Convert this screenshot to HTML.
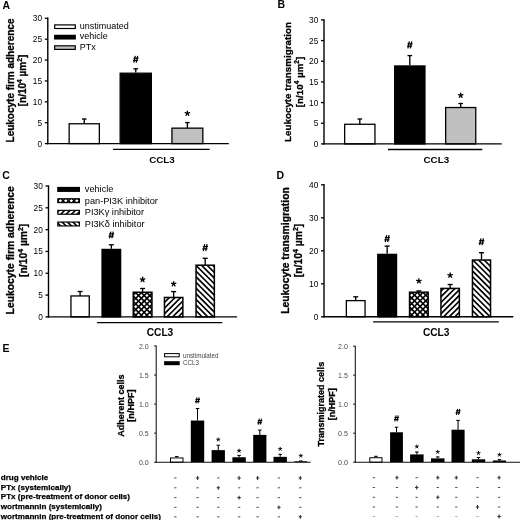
<!DOCTYPE html>
<html><head><meta charset="utf-8"><title>Figure</title>
<style>html,body{margin:0;padding:0;background:#fff;}svg{display:block;font-family:"Liberation Sans",sans-serif;}</style>
</head><body>
<svg width="520" height="520" viewBox="0 0 520 520">
<defs>
<filter id="soft" x="0" y="0" width="520" height="520" filterUnits="userSpaceOnUse"><feGaussianBlur stdDeviation="0.35"/></filter>
</defs>
<g filter="url(#soft)">
<rect width="520" height="520" fill="#fff"/>
<text x="2.40" y="8.70" font-size="10.5" font-weight="bold" text-anchor="start" fill="#000" >A</text>
<text transform="translate(13.80,80.50) rotate(-90)" font-size="10.0" font-weight="bold" text-anchor="middle" fill="#000" stroke="#000" stroke-width="0.3">Leukocyte firm adherence</text>
<text transform="translate(26.20,80.50) rotate(-90)" font-size="10.0" font-weight="bold" text-anchor="middle" fill="#000" stroke="#000" stroke-width="0.3">[n/10<tspan dy="-4.00" font-size="6.60">4</tspan><tspan dy="4.00"> µm</tspan><tspan dy="-4.00" font-size="6.60">2</tspan><tspan dy="4.00">]</tspan></text>
<rect x="69.15" y="123.76" width="30.20" height="19.84" fill="#fff" stroke="#000" stroke-width="1.3"/>
<line x1="84.25" y1="123.76" x2="84.25" y2="119.00" stroke="#000" stroke-width="1.35" />
<line x1="81.95" y1="119.00" x2="86.55" y2="119.00" stroke="#000" stroke-width="1.35" />
<rect x="120.15" y="73.20" width="31.20" height="70.40" fill="#000" stroke="#000" stroke-width="1.3"/>
<line x1="135.75" y1="72.60" x2="135.75" y2="68.80" stroke="#000" stroke-width="1.35" />
<line x1="133.45" y1="68.80" x2="138.05" y2="68.80" stroke="#000" stroke-width="1.35" />
<line x1="133.85" y1="62.60" x2="135.25" y2="55.80" stroke="#000" stroke-width="1.25" />
<line x1="136.25" y1="62.60" x2="137.65" y2="55.80" stroke="#000" stroke-width="1.25" />
<line x1="133.45" y1="58.15" x2="138.55" y2="58.15" stroke="#000" stroke-width="1.1875" />
<line x1="132.95" y1="60.45" x2="138.05" y2="60.45" stroke="#000" stroke-width="1.1875" />
<rect x="171.95" y="128.15" width="30.90" height="15.45" fill="#c0c0c0" stroke="#000" stroke-width="1.3"/>
<line x1="187.40" y1="128.15" x2="187.40" y2="122.60" stroke="#000" stroke-width="1.35" />
<line x1="185.10" y1="122.60" x2="189.70" y2="122.60" stroke="#000" stroke-width="1.35" />
<line x1="187.40" y1="113.40" x2="187.40" y2="111.05" stroke="#000" stroke-width="1.3" stroke-linecap="round"/>
<line x1="187.40" y1="113.40" x2="189.63" y2="112.67" stroke="#000" stroke-width="1.3" stroke-linecap="round"/>
<line x1="187.40" y1="113.40" x2="188.78" y2="115.30" stroke="#000" stroke-width="1.3" stroke-linecap="round"/>
<line x1="187.40" y1="113.40" x2="186.02" y2="115.30" stroke="#000" stroke-width="1.3" stroke-linecap="round"/>
<line x1="187.40" y1="113.40" x2="185.17" y2="112.67" stroke="#000" stroke-width="1.3" stroke-linecap="round"/>
<line x1="47.80" y1="17.60" x2="47.80" y2="144.30" stroke="#000" stroke-width="1.4" />
<line x1="47.10" y1="143.60" x2="228.80" y2="143.60" stroke="#000" stroke-width="1.4" />
<line x1="44.80" y1="143.60" x2="47.80" y2="143.60" stroke="#000" stroke-width="1.3" />
<text x="42.10" y="146.55" font-size="8.3" font-weight="normal" text-anchor="end" fill="#000" >0</text>
<line x1="44.80" y1="122.72" x2="47.80" y2="122.72" stroke="#000" stroke-width="1.3" />
<text x="42.10" y="125.67" font-size="8.3" font-weight="normal" text-anchor="end" fill="#000" >5</text>
<line x1="44.80" y1="101.83" x2="47.80" y2="101.83" stroke="#000" stroke-width="1.3" />
<text x="42.10" y="104.78" font-size="8.3" font-weight="normal" text-anchor="end" fill="#000" >10</text>
<line x1="44.80" y1="80.95" x2="47.80" y2="80.95" stroke="#000" stroke-width="1.3" />
<text x="42.10" y="83.90" font-size="8.3" font-weight="normal" text-anchor="end" fill="#000" >15</text>
<line x1="44.80" y1="60.07" x2="47.80" y2="60.07" stroke="#000" stroke-width="1.3" />
<text x="42.10" y="63.02" font-size="8.3" font-weight="normal" text-anchor="end" fill="#000" >20</text>
<line x1="44.80" y1="39.18" x2="47.80" y2="39.18" stroke="#000" stroke-width="1.3" />
<text x="42.10" y="42.13" font-size="8.3" font-weight="normal" text-anchor="end" fill="#000" >25</text>
<line x1="44.80" y1="18.30" x2="47.80" y2="18.30" stroke="#000" stroke-width="1.3" />
<text x="42.10" y="21.25" font-size="8.3" font-weight="normal" text-anchor="end" fill="#000" >30</text>
<line x1="113.00" y1="149.40" x2="209.70" y2="149.40" stroke="#000" stroke-width="1.4" />
<text x="162.00" y="163.00" font-size="9.8" font-weight="bold" text-anchor="middle" fill="#000" >CCL3</text>
<rect x="54.70" y="24.90" width="20.60" height="3.60" fill="#fff" stroke="#000" stroke-width="1.2"/>
<text x="79.80" y="29.00" font-size="9" font-weight="normal" text-anchor="start" fill="#000" >unstimuated</text>
<rect x="54.70" y="35.35" width="20.60" height="3.60" fill="#000" stroke="#000" stroke-width="1.2"/>
<text x="79.80" y="39.45" font-size="9" font-weight="normal" text-anchor="start" fill="#000" >vehicle</text>
<rect x="54.70" y="45.80" width="20.60" height="3.60" fill="#c0c0c0" stroke="#000" stroke-width="1.2"/>
<text x="79.80" y="49.90" font-size="9" font-weight="normal" text-anchor="start" fill="#000" >PTx</text>
<text x="277.40" y="8.20" font-size="10.5" font-weight="bold" text-anchor="start" fill="#000" >B</text>
<text transform="translate(291.20,82.00) rotate(-90)" font-size="9.8" font-weight="bold" text-anchor="middle" fill="#000" stroke="#000" stroke-width="0.3">Leukocyte transmigration</text>
<text transform="translate(303.20,82.00) rotate(-90)" font-size="9.8" font-weight="bold" text-anchor="middle" fill="#000" stroke="#000" stroke-width="0.3">[n/10<tspan dy="-3.92" font-size="6.47">4</tspan><tspan dy="3.92"> µm</tspan><tspan dy="-3.92" font-size="6.47">2</tspan><tspan dy="3.92">]</tspan></text>
<rect x="344.65" y="124.27" width="30.30" height="19.63" fill="#fff" stroke="#000" stroke-width="1.3"/>
<line x1="359.80" y1="124.27" x2="359.80" y2="119.00" stroke="#000" stroke-width="1.35" />
<line x1="357.50" y1="119.00" x2="362.10" y2="119.00" stroke="#000" stroke-width="1.35" />
<rect x="394.65" y="65.97" width="30.30" height="77.93" fill="#000" stroke="#000" stroke-width="1.3"/>
<line x1="409.80" y1="65.37" x2="409.80" y2="55.60" stroke="#000" stroke-width="1.35" />
<line x1="407.50" y1="55.60" x2="412.10" y2="55.60" stroke="#000" stroke-width="1.35" />
<line x1="407.90" y1="48.30" x2="409.30" y2="41.50" stroke="#000" stroke-width="1.25" />
<line x1="410.30" y1="48.30" x2="411.70" y2="41.50" stroke="#000" stroke-width="1.25" />
<line x1="407.50" y1="43.85" x2="412.60" y2="43.85" stroke="#000" stroke-width="1.1875" />
<line x1="407.00" y1="46.15" x2="412.10" y2="46.15" stroke="#000" stroke-width="1.1875" />
<rect x="445.65" y="107.53" width="30.10" height="36.37" fill="#c0c0c0" stroke="#000" stroke-width="1.3"/>
<line x1="460.70" y1="107.53" x2="460.70" y2="103.50" stroke="#000" stroke-width="1.35" />
<line x1="458.40" y1="103.50" x2="463.00" y2="103.50" stroke="#000" stroke-width="1.35" />
<line x1="460.70" y1="95.40" x2="460.70" y2="93.05" stroke="#000" stroke-width="1.3" stroke-linecap="round"/>
<line x1="460.70" y1="95.40" x2="462.93" y2="94.67" stroke="#000" stroke-width="1.3" stroke-linecap="round"/>
<line x1="460.70" y1="95.40" x2="462.08" y2="97.30" stroke="#000" stroke-width="1.3" stroke-linecap="round"/>
<line x1="460.70" y1="95.40" x2="459.32" y2="97.30" stroke="#000" stroke-width="1.3" stroke-linecap="round"/>
<line x1="460.70" y1="95.40" x2="458.47" y2="94.67" stroke="#000" stroke-width="1.3" stroke-linecap="round"/>
<line x1="324.00" y1="19.20" x2="324.00" y2="144.60" stroke="#000" stroke-width="1.4" />
<line x1="323.30" y1="143.90" x2="501.70" y2="143.90" stroke="#000" stroke-width="1.4" />
<line x1="321.00" y1="143.90" x2="324.00" y2="143.90" stroke="#000" stroke-width="1.3" />
<text x="318.30" y="146.85" font-size="8.3" font-weight="normal" text-anchor="end" fill="#000" >0</text>
<line x1="321.00" y1="123.23" x2="324.00" y2="123.23" stroke="#000" stroke-width="1.3" />
<text x="318.30" y="126.18" font-size="8.3" font-weight="normal" text-anchor="end" fill="#000" >5</text>
<line x1="321.00" y1="102.57" x2="324.00" y2="102.57" stroke="#000" stroke-width="1.3" />
<text x="318.30" y="105.52" font-size="8.3" font-weight="normal" text-anchor="end" fill="#000" >10</text>
<line x1="321.00" y1="81.90" x2="324.00" y2="81.90" stroke="#000" stroke-width="1.3" />
<text x="318.30" y="84.85" font-size="8.3" font-weight="normal" text-anchor="end" fill="#000" >15</text>
<line x1="321.00" y1="61.23" x2="324.00" y2="61.23" stroke="#000" stroke-width="1.3" />
<text x="318.30" y="64.18" font-size="8.3" font-weight="normal" text-anchor="end" fill="#000" >20</text>
<line x1="321.00" y1="40.57" x2="324.00" y2="40.57" stroke="#000" stroke-width="1.3" />
<text x="318.30" y="43.52" font-size="8.3" font-weight="normal" text-anchor="end" fill="#000" >25</text>
<line x1="321.00" y1="19.90" x2="324.00" y2="19.90" stroke="#000" stroke-width="1.3" />
<text x="318.30" y="22.85" font-size="8.3" font-weight="normal" text-anchor="end" fill="#000" >30</text>
<line x1="388.00" y1="149.50" x2="482.30" y2="149.50" stroke="#000" stroke-width="1.4" />
<text x="436.30" y="162.90" font-size="9.8" font-weight="bold" text-anchor="middle" fill="#000" >CCL3</text>
<text x="2.30" y="179.40" font-size="10.5" font-weight="bold" text-anchor="start" fill="#000" >C</text>
<text transform="translate(14.00,250.30) rotate(-90)" font-size="10.35" font-weight="bold" text-anchor="middle" fill="#000" stroke="#000" stroke-width="0.3">Leukocyte firm adherence</text>
<text transform="translate(27.00,250.30) rotate(-90)" font-size="10.35" font-weight="bold" text-anchor="middle" fill="#000" stroke="#000" stroke-width="0.3">[n/10<tspan dy="-4.14" font-size="6.83">4</tspan><tspan dy="4.14"> µm</tspan><tspan dy="-4.14" font-size="6.83">2</tspan><tspan dy="4.14">]</tspan></text>
<rect x="70.95" y="295.96" width="18.30" height="20.94" fill="#fff" stroke="#000" stroke-width="1.3"/>
<line x1="80.10" y1="295.96" x2="80.10" y2="291.50" stroke="#000" stroke-width="1.35" />
<line x1="77.60" y1="291.50" x2="82.60" y2="291.50" stroke="#000" stroke-width="1.35" />
<rect x="102.05" y="249.43" width="18.60" height="67.47" fill="#000" stroke="#000" stroke-width="1.3"/>
<line x1="111.35" y1="248.83" x2="111.35" y2="244.80" stroke="#000" stroke-width="1.35" />
<line x1="108.85" y1="244.80" x2="113.85" y2="244.80" stroke="#000" stroke-width="1.35" />
<line x1="109.45" y1="238.40" x2="110.85" y2="231.60" stroke="#000" stroke-width="1.25" />
<line x1="111.85" y1="238.40" x2="113.25" y2="231.60" stroke="#000" stroke-width="1.25" />
<line x1="109.05" y1="233.95" x2="114.15" y2="233.95" stroke="#000" stroke-width="1.1875" />
<line x1="108.55" y1="236.25" x2="113.65" y2="236.25" stroke="#000" stroke-width="1.1875" />
<clipPath id="c1"><rect x="133.25" y="292.25" width="18.70" height="24.65"/></clipPath>
<rect x="133.25" y="292.25" width="18.70" height="24.65" fill="#fff"/>
<g clip-path="url(#c1)">
<path d="M126.90 290.25L98.25 318.90M132.52 290.25L103.87 318.90M138.14 290.25L109.49 318.90M143.76 290.25L115.11 318.90M149.38 290.25L120.73 318.90M155.00 290.25L126.35 318.90M160.62 290.25L131.97 318.90M166.24 290.25L137.59 318.90M171.86 290.25L143.21 318.90M177.48 290.25L148.83 318.90M183.10 290.25L154.45 318.90M188.72 290.25L160.07 318.90" stroke="#000" stroke-width="1.6" fill="none"/>
<path d="M99.54 290.25L128.19 318.90M105.16 290.25L133.81 318.90M110.78 290.25L139.43 318.90M116.40 290.25L145.05 318.90M122.02 290.25L150.67 318.90M127.64 290.25L156.29 318.90M133.26 290.25L161.91 318.90M138.88 290.25L167.53 318.90M144.50 290.25L173.15 318.90M150.12 290.25L178.77 318.90M155.74 290.25L184.39 318.90" stroke="#000" stroke-width="1.6" fill="none"/>
</g>
<rect x="133.25" y="292.25" width="18.70" height="24.65" fill="none" stroke="#000" stroke-width="1.5"/>
<line x1="142.60" y1="292.25" x2="142.60" y2="288.50" stroke="#000" stroke-width="1.35" />
<line x1="140.10" y1="288.50" x2="145.10" y2="288.50" stroke="#000" stroke-width="1.35" />
<line x1="142.60" y1="279.60" x2="142.60" y2="277.25" stroke="#000" stroke-width="1.3" stroke-linecap="round"/>
<line x1="142.60" y1="279.60" x2="144.83" y2="278.87" stroke="#000" stroke-width="1.3" stroke-linecap="round"/>
<line x1="142.60" y1="279.60" x2="143.98" y2="281.50" stroke="#000" stroke-width="1.3" stroke-linecap="round"/>
<line x1="142.60" y1="279.60" x2="141.22" y2="281.50" stroke="#000" stroke-width="1.3" stroke-linecap="round"/>
<line x1="142.60" y1="279.60" x2="140.37" y2="278.87" stroke="#000" stroke-width="1.3" stroke-linecap="round"/>
<clipPath id="c2"><rect x="164.45" y="297.48" width="18.40" height="19.42"/></clipPath>
<rect x="164.45" y="297.48" width="18.40" height="19.42" fill="#fff"/>
<g clip-path="url(#c2)">
<path d="M160.10 295.48L136.69 318.90M165.76 295.48L142.34 318.90M171.42 295.48L148.00 318.90M177.07 295.48L153.66 318.90M182.73 295.48L159.31 318.90M188.39 295.48L164.97 318.90M194.04 295.48L170.63 318.90M199.70 295.48L176.29 318.90M205.36 295.48L181.94 318.90M211.02 295.48L187.60 318.90" stroke="#000" stroke-width="1.65" fill="none"/>
</g>
<rect x="164.45" y="297.48" width="18.40" height="19.42" fill="none" stroke="#000" stroke-width="1.5"/>
<line x1="173.65" y1="297.48" x2="173.65" y2="291.60" stroke="#000" stroke-width="1.35" />
<line x1="171.15" y1="291.60" x2="176.15" y2="291.60" stroke="#000" stroke-width="1.35" />
<line x1="173.65" y1="283.90" x2="173.65" y2="281.55" stroke="#000" stroke-width="1.3" stroke-linecap="round"/>
<line x1="173.65" y1="283.90" x2="175.88" y2="283.17" stroke="#000" stroke-width="1.3" stroke-linecap="round"/>
<line x1="173.65" y1="283.90" x2="175.03" y2="285.80" stroke="#000" stroke-width="1.3" stroke-linecap="round"/>
<line x1="173.65" y1="283.90" x2="172.27" y2="285.80" stroke="#000" stroke-width="1.3" stroke-linecap="round"/>
<line x1="173.65" y1="283.90" x2="171.42" y2="283.17" stroke="#000" stroke-width="1.3" stroke-linecap="round"/>
<clipPath id="c3"><rect x="196.05" y="265.19" width="18.30" height="51.71"/></clipPath>
<rect x="196.05" y="265.19" width="18.30" height="51.71" fill="#fff"/>
<g clip-path="url(#c3)">
<path d="M131.52 263.19L187.23 318.90M137.18 263.19L192.89 318.90M142.84 263.19L198.54 318.90M148.50 263.19L204.20 318.90M154.15 263.19L209.86 318.90M159.81 263.19L215.51 318.90M165.47 263.19L221.17 318.90M171.12 263.19L226.83 318.90M176.78 263.19L232.49 318.90M182.44 263.19L238.14 318.90M188.09 263.19L243.80 318.90M193.75 263.19L249.46 318.90M199.41 263.19L255.11 318.90M205.07 263.19L260.77 318.90M210.72 263.19L266.43 318.90M216.38 263.19L272.08 318.90M222.04 263.19L277.74 318.90" stroke="#000" stroke-width="1.65" fill="none"/>
</g>
<rect x="196.05" y="265.19" width="18.30" height="51.71" fill="none" stroke="#000" stroke-width="1.5"/>
<line x1="205.20" y1="265.19" x2="205.20" y2="258.30" stroke="#000" stroke-width="1.35" />
<line x1="202.70" y1="258.30" x2="207.70" y2="258.30" stroke="#000" stroke-width="1.35" />
<line x1="203.30" y1="251.00" x2="204.70" y2="244.20" stroke="#000" stroke-width="1.25" />
<line x1="205.70" y1="251.00" x2="207.10" y2="244.20" stroke="#000" stroke-width="1.25" />
<line x1="202.90" y1="246.55" x2="208.00" y2="246.55" stroke="#000" stroke-width="1.1875" />
<line x1="202.40" y1="248.85" x2="207.50" y2="248.85" stroke="#000" stroke-width="1.1875" />
<line x1="48.50" y1="185.30" x2="48.50" y2="317.60" stroke="#000" stroke-width="1.4" />
<line x1="47.80" y1="316.90" x2="237.10" y2="316.90" stroke="#000" stroke-width="1.4" />
<line x1="45.50" y1="316.90" x2="48.50" y2="316.90" stroke="#000" stroke-width="1.3" />
<text x="42.80" y="319.85" font-size="8.3" font-weight="normal" text-anchor="end" fill="#000" >0</text>
<line x1="45.50" y1="295.08" x2="48.50" y2="295.08" stroke="#000" stroke-width="1.3" />
<text x="42.80" y="298.03" font-size="8.3" font-weight="normal" text-anchor="end" fill="#000" >5</text>
<line x1="45.50" y1="273.27" x2="48.50" y2="273.27" stroke="#000" stroke-width="1.3" />
<text x="42.80" y="276.22" font-size="8.3" font-weight="normal" text-anchor="end" fill="#000" >10</text>
<line x1="45.50" y1="251.45" x2="48.50" y2="251.45" stroke="#000" stroke-width="1.3" />
<text x="42.80" y="254.40" font-size="8.3" font-weight="normal" text-anchor="end" fill="#000" >15</text>
<line x1="45.50" y1="229.63" x2="48.50" y2="229.63" stroke="#000" stroke-width="1.3" />
<text x="42.80" y="232.58" font-size="8.3" font-weight="normal" text-anchor="end" fill="#000" >20</text>
<line x1="45.50" y1="207.82" x2="48.50" y2="207.82" stroke="#000" stroke-width="1.3" />
<text x="42.80" y="210.77" font-size="8.3" font-weight="normal" text-anchor="end" fill="#000" >25</text>
<line x1="45.50" y1="186.00" x2="48.50" y2="186.00" stroke="#000" stroke-width="1.3" />
<text x="42.80" y="188.95" font-size="8.3" font-weight="normal" text-anchor="end" fill="#000" >30</text>
<line x1="96.90" y1="322.60" x2="222.30" y2="322.60" stroke="#000" stroke-width="1.4" />
<text x="160.00" y="335.90" font-size="10.2" font-weight="bold" text-anchor="middle" fill="#000" >CCL3</text>
<rect x="57.80" y="187.45" width="21.60" height="3.90" fill="#000" stroke="#000" stroke-width="1.15"/>
<text x="84.80" y="192.20" font-size="9.2" font-weight="normal" text-anchor="start" fill="#000" >vehicle</text>
<clipPath id="c4"><rect x="57.80" y="198.75" width="21.60" height="3.90"/></clipPath>
<rect x="57.80" y="198.75" width="21.60" height="3.90" fill="#fff"/>
<g clip-path="url(#c4)">
<path d="M50.45 196.75L42.55 204.65M55.95 196.75L48.05 204.65M61.45 196.75L53.55 204.65M66.95 196.75L59.05 204.65M72.45 196.75L64.55 204.65M77.95 196.75L70.05 204.65M83.45 196.75L75.55 204.65M88.95 196.75L81.05 204.65M94.45 196.75L86.55 204.65" stroke="#000" stroke-width="1.4" fill="none"/>
<path d="M42.65 196.75L50.55 204.65M48.15 196.75L56.05 204.65M53.65 196.75L61.55 204.65M59.15 196.75L67.05 204.65M64.65 196.75L72.55 204.65M70.15 196.75L78.05 204.65M75.65 196.75L83.55 204.65M81.15 196.75L89.05 204.65M86.65 196.75L94.55 204.65" stroke="#000" stroke-width="1.4" fill="none"/>
</g>
<rect x="57.80" y="198.75" width="21.60" height="3.90" fill="none" stroke="#000" stroke-width="1.15"/>
<text x="84.80" y="203.75" font-size="9.2" font-weight="normal" text-anchor="start" fill="#000" >pan-PI3K inhibitor</text>
<clipPath id="c5"><rect x="57.80" y="210.35" width="21.60" height="3.90"/></clipPath>
<rect x="57.80" y="210.35" width="21.60" height="3.90" fill="#fff"/>
<g clip-path="url(#c5)">
<path d="M50.45 208.35L42.55 216.25M55.85 208.35L47.95 216.25M61.25 208.35L53.35 216.25M66.65 208.35L58.75 216.25M72.05 208.35L64.15 216.25M77.45 208.35L69.55 216.25M82.85 208.35L74.95 216.25M88.25 208.35L80.35 216.25M93.65 208.35L85.75 216.25" stroke="#000" stroke-width="1.6" fill="none"/>
</g>
<rect x="57.80" y="210.35" width="21.60" height="3.90" fill="none" stroke="#000" stroke-width="1.15"/>
<text x="84.80" y="215.30" font-size="9.2" font-weight="normal" text-anchor="start" fill="#000" >PI3Kγ inhibitor</text>
<clipPath id="c6"><rect x="57.80" y="222.05" width="21.60" height="3.90"/></clipPath>
<rect x="57.80" y="222.05" width="21.60" height="3.90" fill="#fff"/>
<g clip-path="url(#c6)">
<path d="M43.95 220.05L51.85 227.95M49.35 220.05L57.25 227.95M54.75 220.05L62.65 227.95M60.15 220.05L68.05 227.95M65.55 220.05L73.45 227.95M70.95 220.05L78.85 227.95M76.35 220.05L84.25 227.95M81.75 220.05L89.65 227.95M87.15 220.05L95.05 227.95" stroke="#000" stroke-width="1.6" fill="none"/>
</g>
<rect x="57.80" y="222.05" width="21.60" height="3.90" fill="none" stroke="#000" stroke-width="1.15"/>
<text x="84.80" y="226.85" font-size="9.2" font-weight="normal" text-anchor="start" fill="#000" >PI3Kδ inhibitor</text>
<text x="276.60" y="179.00" font-size="10.5" font-weight="bold" text-anchor="start" fill="#000" >D</text>
<text transform="translate(289.10,250.50) rotate(-90)" font-size="10.37" font-weight="bold" text-anchor="middle" fill="#000" stroke="#000" stroke-width="0.3">Leukocyte transmigration</text>
<text transform="translate(302.20,250.50) rotate(-90)" font-size="10.37" font-weight="bold" text-anchor="middle" fill="#000" stroke="#000" stroke-width="0.3">[n/10<tspan dy="-4.15" font-size="6.84">4</tspan><tspan dy="4.15"> µm</tspan><tspan dy="-4.15" font-size="6.84">2</tspan><tspan dy="4.15">]</tspan></text>
<rect x="346.35" y="300.63" width="18.70" height="16.17" fill="#fff" stroke="#000" stroke-width="1.3"/>
<line x1="355.70" y1="300.63" x2="355.70" y2="296.80" stroke="#000" stroke-width="1.35" />
<line x1="353.20" y1="296.80" x2="358.20" y2="296.80" stroke="#000" stroke-width="1.35" />
<rect x="377.75" y="254.37" width="18.80" height="62.43" fill="#000" stroke="#000" stroke-width="1.3"/>
<line x1="387.15" y1="253.77" x2="387.15" y2="246.10" stroke="#000" stroke-width="1.35" />
<line x1="384.65" y1="246.10" x2="389.65" y2="246.10" stroke="#000" stroke-width="1.35" />
<line x1="385.25" y1="242.00" x2="386.65" y2="235.20" stroke="#000" stroke-width="1.25" />
<line x1="387.65" y1="242.00" x2="389.05" y2="235.20" stroke="#000" stroke-width="1.25" />
<line x1="384.85" y1="237.55" x2="389.95" y2="237.55" stroke="#000" stroke-width="1.1875" />
<line x1="384.35" y1="239.85" x2="389.45" y2="239.85" stroke="#000" stroke-width="1.1875" />
<clipPath id="c7"><rect x="409.55" y="292.22" width="18.60" height="24.58"/></clipPath>
<rect x="409.55" y="292.22" width="18.60" height="24.58" fill="#fff"/>
<g clip-path="url(#c7)">
<path d="M402.58 290.22L374.00 318.80M408.20 290.22L379.62 318.80M413.82 290.22L385.24 318.80M419.44 290.22L390.86 318.80M425.06 290.22L396.48 318.80M430.68 290.22L402.10 318.80M436.30 290.22L407.72 318.80M441.92 290.22L413.34 318.80M447.54 290.22L418.96 318.80M453.16 290.22L424.58 318.80M458.78 290.22L430.20 318.80M464.40 290.22L435.82 318.80" stroke="#000" stroke-width="1.6" fill="none"/>
<path d="M375.86 290.22L404.44 318.80M381.48 290.22L410.06 318.80M387.10 290.22L415.68 318.80M392.72 290.22L421.30 318.80M398.34 290.22L426.92 318.80M403.96 290.22L432.54 318.80M409.58 290.22L438.16 318.80M415.20 290.22L443.78 318.80M420.82 290.22L449.40 318.80M426.44 290.22L455.02 318.80M432.06 290.22L460.64 318.80" stroke="#000" stroke-width="1.6" fill="none"/>
</g>
<rect x="409.55" y="292.22" width="18.60" height="24.58" fill="none" stroke="#000" stroke-width="1.5"/>
<line x1="418.85" y1="292.22" x2="418.85" y2="290.90" stroke="#000" stroke-width="1.35" />
<line x1="416.35" y1="290.90" x2="421.35" y2="290.90" stroke="#000" stroke-width="1.35" />
<line x1="418.85" y1="281.00" x2="418.85" y2="278.65" stroke="#000" stroke-width="1.3" stroke-linecap="round"/>
<line x1="418.85" y1="281.00" x2="421.08" y2="280.27" stroke="#000" stroke-width="1.3" stroke-linecap="round"/>
<line x1="418.85" y1="281.00" x2="420.23" y2="282.90" stroke="#000" stroke-width="1.3" stroke-linecap="round"/>
<line x1="418.85" y1="281.00" x2="417.47" y2="282.90" stroke="#000" stroke-width="1.3" stroke-linecap="round"/>
<line x1="418.85" y1="281.00" x2="416.62" y2="280.27" stroke="#000" stroke-width="1.3" stroke-linecap="round"/>
<clipPath id="c8"><rect x="440.95" y="288.42" width="18.40" height="28.38"/></clipPath>
<rect x="440.95" y="288.42" width="18.40" height="28.38" fill="#fff"/>
<g clip-path="url(#c8)">
<path d="M434.36 286.42L401.98 318.80M440.02 286.42L407.64 318.80M445.67 286.42L413.29 318.80M451.33 286.42L418.95 318.80M456.99 286.42L424.61 318.80M462.64 286.42L430.26 318.80M468.30 286.42L435.92 318.80M473.96 286.42L441.58 318.80M479.61 286.42L447.23 318.80M485.27 286.42L452.89 318.80M490.93 286.42L458.55 318.80M496.59 286.42L464.21 318.80" stroke="#000" stroke-width="1.65" fill="none"/>
</g>
<rect x="440.95" y="288.42" width="18.40" height="28.38" fill="none" stroke="#000" stroke-width="1.5"/>
<line x1="450.15" y1="288.42" x2="450.15" y2="284.50" stroke="#000" stroke-width="1.35" />
<line x1="447.65" y1="284.50" x2="452.65" y2="284.50" stroke="#000" stroke-width="1.35" />
<line x1="450.15" y1="275.30" x2="450.15" y2="272.95" stroke="#000" stroke-width="1.3" stroke-linecap="round"/>
<line x1="450.15" y1="275.30" x2="452.38" y2="274.57" stroke="#000" stroke-width="1.3" stroke-linecap="round"/>
<line x1="450.15" y1="275.30" x2="451.53" y2="277.20" stroke="#000" stroke-width="1.3" stroke-linecap="round"/>
<line x1="450.15" y1="275.30" x2="448.77" y2="277.20" stroke="#000" stroke-width="1.3" stroke-linecap="round"/>
<line x1="450.15" y1="275.30" x2="447.92" y2="274.57" stroke="#000" stroke-width="1.3" stroke-linecap="round"/>
<clipPath id="c9"><rect x="472.45" y="260.04" width="18.10" height="56.76"/></clipPath>
<rect x="472.45" y="260.04" width="18.10" height="56.76" fill="#fff"/>
<g clip-path="url(#c9)">
<path d="M403.01 258.04L463.77 318.80M408.66 258.04L469.42 318.80M414.32 258.04L475.08 318.80M419.98 258.04L480.74 318.80M425.63 258.04L486.39 318.80M431.29 258.04L492.05 318.80M436.95 258.04L497.71 318.80M442.61 258.04L503.37 318.80M448.26 258.04L509.02 318.80M453.92 258.04L514.68 318.80M459.58 258.04L520.34 318.80M465.23 258.04L525.99 318.80M470.89 258.04L531.65 318.80M476.55 258.04L537.31 318.80M482.20 258.04L542.96 318.80M487.86 258.04L548.62 318.80M493.52 258.04L554.28 318.80M499.18 258.04L559.94 318.80" stroke="#000" stroke-width="1.65" fill="none"/>
</g>
<rect x="472.45" y="260.04" width="18.10" height="56.76" fill="none" stroke="#000" stroke-width="1.5"/>
<line x1="481.50" y1="260.04" x2="481.50" y2="252.70" stroke="#000" stroke-width="1.35" />
<line x1="479.00" y1="252.70" x2="484.00" y2="252.70" stroke="#000" stroke-width="1.35" />
<line x1="479.60" y1="245.10" x2="481.00" y2="238.30" stroke="#000" stroke-width="1.25" />
<line x1="482.00" y1="245.10" x2="483.40" y2="238.30" stroke="#000" stroke-width="1.25" />
<line x1="479.20" y1="240.65" x2="484.30" y2="240.65" stroke="#000" stroke-width="1.1875" />
<line x1="478.70" y1="242.95" x2="483.80" y2="242.95" stroke="#000" stroke-width="1.1875" />
<line x1="324.00" y1="184.10" x2="324.00" y2="317.50" stroke="#000" stroke-width="1.4" />
<line x1="323.30" y1="316.80" x2="513.30" y2="316.80" stroke="#000" stroke-width="1.4" />
<line x1="321.00" y1="316.80" x2="324.00" y2="316.80" stroke="#000" stroke-width="1.3" />
<text x="318.30" y="319.75" font-size="8.3" font-weight="normal" text-anchor="end" fill="#000" >0</text>
<line x1="321.00" y1="283.80" x2="324.00" y2="283.80" stroke="#000" stroke-width="1.3" />
<text x="318.30" y="286.75" font-size="8.3" font-weight="normal" text-anchor="end" fill="#000" >10</text>
<line x1="321.00" y1="250.80" x2="324.00" y2="250.80" stroke="#000" stroke-width="1.3" />
<text x="318.30" y="253.75" font-size="8.3" font-weight="normal" text-anchor="end" fill="#000" >20</text>
<line x1="321.00" y1="217.80" x2="324.00" y2="217.80" stroke="#000" stroke-width="1.3" />
<text x="318.30" y="220.75" font-size="8.3" font-weight="normal" text-anchor="end" fill="#000" >30</text>
<line x1="321.00" y1="184.80" x2="324.00" y2="184.80" stroke="#000" stroke-width="1.3" />
<text x="318.30" y="187.75" font-size="8.3" font-weight="normal" text-anchor="end" fill="#000" >40</text>
<line x1="373.10" y1="321.90" x2="498.80" y2="321.90" stroke="#000" stroke-width="1.4" />
<text x="436.20" y="335.90" font-size="10.2" font-weight="bold" text-anchor="middle" fill="#000" >CCL3</text>
<text x="2.60" y="352.10" font-size="10.5" font-weight="bold" text-anchor="start" fill="#000" >E</text>
<text transform="translate(123.50,405.60) rotate(-90)" font-size="9.03" font-weight="bold" text-anchor="middle" fill="#000" stroke="#000" stroke-width="0.3">Adherent cells</text>
<text transform="translate(134.40,405.60) rotate(-90)" font-size="9.03" font-weight="bold" text-anchor="middle" fill="#000" stroke="#000" stroke-width="0.3">[n/HPF]</text>
<rect x="170.50" y="457.94" width="12.50" height="4.26" fill="#fff" stroke="#000" stroke-width="1.0"/>
<line x1="176.75" y1="457.44" x2="176.75" y2="456.50" stroke="#000" stroke-width="1.05" />
<line x1="175.00" y1="456.50" x2="178.50" y2="456.50" stroke="#000" stroke-width="1.05" />
<rect x="190.80" y="420.54" width="13.40" height="41.66" fill="#000"/>
<line x1="197.50" y1="420.54" x2="197.50" y2="408.50" stroke="#000" stroke-width="1.05" />
<line x1="195.75" y1="408.50" x2="199.25" y2="408.50" stroke="#000" stroke-width="1.05" />
<line x1="195.82" y1="403.40" x2="197.06" y2="397.40" stroke="#000" stroke-width="1.05" />
<line x1="197.94" y1="403.40" x2="199.18" y2="397.40" stroke="#000" stroke-width="1.05" />
<line x1="195.47" y1="399.47" x2="199.97" y2="399.47" stroke="#000" stroke-width="1.2075" />
<line x1="195.03" y1="401.50" x2="199.53" y2="401.50" stroke="#000" stroke-width="1.2075" />
<rect x="211.60" y="450.12" width="13.30" height="12.08" fill="#000"/>
<line x1="218.25" y1="450.12" x2="218.25" y2="445.20" stroke="#000" stroke-width="1.05" />
<line x1="216.50" y1="445.20" x2="220.00" y2="445.20" stroke="#000" stroke-width="1.05" />
<line x1="218.25" y1="439.60" x2="218.25" y2="437.90" stroke="#111" stroke-width="1.0" stroke-linecap="round"/>
<line x1="218.25" y1="439.60" x2="219.87" y2="439.07" stroke="#111" stroke-width="1.0" stroke-linecap="round"/>
<line x1="218.25" y1="439.60" x2="219.25" y2="440.98" stroke="#111" stroke-width="1.0" stroke-linecap="round"/>
<line x1="218.25" y1="439.60" x2="217.25" y2="440.98" stroke="#111" stroke-width="1.0" stroke-linecap="round"/>
<line x1="218.25" y1="439.60" x2="216.63" y2="439.07" stroke="#111" stroke-width="1.0" stroke-linecap="round"/>
<rect x="232.40" y="457.26" width="13.40" height="4.94" fill="#000"/>
<line x1="239.10" y1="457.26" x2="239.10" y2="455.40" stroke="#000" stroke-width="1.05" />
<line x1="237.35" y1="455.40" x2="240.85" y2="455.40" stroke="#000" stroke-width="1.05" />
<line x1="239.10" y1="450.80" x2="239.10" y2="449.10" stroke="#111" stroke-width="1.0" stroke-linecap="round"/>
<line x1="239.10" y1="450.80" x2="240.72" y2="450.27" stroke="#111" stroke-width="1.0" stroke-linecap="round"/>
<line x1="239.10" y1="450.80" x2="240.10" y2="452.18" stroke="#111" stroke-width="1.0" stroke-linecap="round"/>
<line x1="239.10" y1="450.80" x2="238.10" y2="452.18" stroke="#111" stroke-width="1.0" stroke-linecap="round"/>
<line x1="239.10" y1="450.80" x2="237.48" y2="450.27" stroke="#111" stroke-width="1.0" stroke-linecap="round"/>
<rect x="253.20" y="434.89" width="13.20" height="27.31" fill="#000"/>
<line x1="259.80" y1="434.89" x2="259.80" y2="430.10" stroke="#000" stroke-width="1.05" />
<line x1="258.05" y1="430.10" x2="261.55" y2="430.10" stroke="#000" stroke-width="1.05" />
<line x1="258.12" y1="424.60" x2="259.36" y2="418.60" stroke="#000" stroke-width="1.05" />
<line x1="260.24" y1="424.60" x2="261.48" y2="418.60" stroke="#000" stroke-width="1.05" />
<line x1="257.77" y1="420.67" x2="262.27" y2="420.67" stroke="#000" stroke-width="1.2075" />
<line x1="257.33" y1="422.70" x2="261.83" y2="422.70" stroke="#000" stroke-width="1.2075" />
<rect x="273.50" y="456.85" width="13.40" height="5.35" fill="#000"/>
<line x1="280.20" y1="456.85" x2="280.20" y2="454.30" stroke="#000" stroke-width="1.05" />
<line x1="278.45" y1="454.30" x2="281.95" y2="454.30" stroke="#000" stroke-width="1.05" />
<line x1="280.20" y1="449.00" x2="280.20" y2="447.30" stroke="#111" stroke-width="1.0" stroke-linecap="round"/>
<line x1="280.20" y1="449.00" x2="281.82" y2="448.47" stroke="#111" stroke-width="1.0" stroke-linecap="round"/>
<line x1="280.20" y1="449.00" x2="281.20" y2="450.38" stroke="#111" stroke-width="1.0" stroke-linecap="round"/>
<line x1="280.20" y1="449.00" x2="279.20" y2="450.38" stroke="#111" stroke-width="1.0" stroke-linecap="round"/>
<line x1="280.20" y1="449.00" x2="278.58" y2="448.47" stroke="#111" stroke-width="1.0" stroke-linecap="round"/>
<rect x="294.40" y="461.27" width="12.80" height="0.93" fill="#000"/>
<line x1="300.80" y1="461.27" x2="300.80" y2="461.00" stroke="#000" stroke-width="1.05" />
<line x1="299.05" y1="461.00" x2="302.55" y2="461.00" stroke="#000" stroke-width="1.05" />
<line x1="300.80" y1="455.80" x2="300.80" y2="454.10" stroke="#111" stroke-width="1.0" stroke-linecap="round"/>
<line x1="300.80" y1="455.80" x2="302.42" y2="455.27" stroke="#111" stroke-width="1.0" stroke-linecap="round"/>
<line x1="300.80" y1="455.80" x2="301.80" y2="457.18" stroke="#111" stroke-width="1.0" stroke-linecap="round"/>
<line x1="300.80" y1="455.80" x2="299.80" y2="457.18" stroke="#111" stroke-width="1.0" stroke-linecap="round"/>
<line x1="300.80" y1="455.80" x2="299.18" y2="455.27" stroke="#111" stroke-width="1.0" stroke-linecap="round"/>
<line x1="156.20" y1="345.50" x2="156.20" y2="462.70" stroke="#111" stroke-width="1.05" />
<line x1="155.70" y1="462.20" x2="310.60" y2="462.20" stroke="#111" stroke-width="1.1" />
<line x1="154.00" y1="462.20" x2="156.20" y2="462.20" stroke="#111" stroke-width="0.95" />
<text x="148.80" y="464.80" font-size="7.1" font-weight="normal" text-anchor="end" fill="#4a4a4a" >0.0</text>
<line x1="154.00" y1="433.15" x2="156.20" y2="433.15" stroke="#111" stroke-width="0.95" />
<text x="148.80" y="435.75" font-size="7.1" font-weight="normal" text-anchor="end" fill="#4a4a4a" >0.5</text>
<line x1="154.00" y1="404.10" x2="156.20" y2="404.10" stroke="#111" stroke-width="0.95" />
<text x="148.80" y="406.70" font-size="7.1" font-weight="normal" text-anchor="end" fill="#4a4a4a" >1.0</text>
<line x1="154.00" y1="375.05" x2="156.20" y2="375.05" stroke="#111" stroke-width="0.95" />
<text x="148.80" y="377.65" font-size="7.1" font-weight="normal" text-anchor="end" fill="#4a4a4a" >1.5</text>
<line x1="154.00" y1="346.00" x2="156.20" y2="346.00" stroke="#111" stroke-width="0.95" />
<text x="148.80" y="348.60" font-size="7.1" font-weight="normal" text-anchor="end" fill="#4a4a4a" >2.0</text>
<text transform="translate(324.40,404.20) rotate(-90)" font-size="9.03" font-weight="bold" text-anchor="middle" fill="#000" stroke="#000" stroke-width="0.3">Transmigrated cells</text>
<text transform="translate(335.20,404.20) rotate(-90)" font-size="9.03" font-weight="bold" text-anchor="middle" fill="#000" stroke="#000" stroke-width="0.3">[n/HPF]</text>
<rect x="369.80" y="457.71" width="12.20" height="4.49" fill="#fff" stroke="#000" stroke-width="1.0"/>
<line x1="375.90" y1="457.21" x2="375.90" y2="456.30" stroke="#000" stroke-width="1.05" />
<line x1="374.15" y1="456.30" x2="377.65" y2="456.30" stroke="#000" stroke-width="1.05" />
<rect x="390.10" y="432.27" width="12.80" height="29.93" fill="#000"/>
<line x1="396.50" y1="432.27" x2="396.50" y2="427.20" stroke="#000" stroke-width="1.05" />
<line x1="394.75" y1="427.20" x2="398.25" y2="427.20" stroke="#000" stroke-width="1.05" />
<line x1="394.82" y1="421.40" x2="396.06" y2="415.40" stroke="#000" stroke-width="1.05" />
<line x1="396.94" y1="421.40" x2="398.18" y2="415.40" stroke="#000" stroke-width="1.05" />
<line x1="394.47" y1="417.47" x2="398.97" y2="417.47" stroke="#000" stroke-width="1.2075" />
<line x1="394.03" y1="419.50" x2="398.53" y2="419.50" stroke="#000" stroke-width="1.2075" />
<rect x="410.10" y="454.43" width="13.50" height="7.77" fill="#000"/>
<line x1="416.85" y1="454.43" x2="416.85" y2="452.00" stroke="#000" stroke-width="1.05" />
<line x1="415.10" y1="452.00" x2="418.60" y2="452.00" stroke="#000" stroke-width="1.05" />
<line x1="416.85" y1="446.60" x2="416.85" y2="444.90" stroke="#111" stroke-width="1.0" stroke-linecap="round"/>
<line x1="416.85" y1="446.60" x2="418.47" y2="446.07" stroke="#111" stroke-width="1.0" stroke-linecap="round"/>
<line x1="416.85" y1="446.60" x2="417.85" y2="447.98" stroke="#111" stroke-width="1.0" stroke-linecap="round"/>
<line x1="416.85" y1="446.60" x2="415.85" y2="447.98" stroke="#111" stroke-width="1.0" stroke-linecap="round"/>
<line x1="416.85" y1="446.60" x2="415.23" y2="446.07" stroke="#111" stroke-width="1.0" stroke-linecap="round"/>
<rect x="431.00" y="458.37" width="13.50" height="3.83" fill="#000"/>
<line x1="437.75" y1="458.37" x2="437.75" y2="456.90" stroke="#000" stroke-width="1.05" />
<line x1="436.00" y1="456.90" x2="439.50" y2="456.90" stroke="#000" stroke-width="1.05" />
<line x1="437.75" y1="452.00" x2="437.75" y2="450.30" stroke="#111" stroke-width="1.0" stroke-linecap="round"/>
<line x1="437.75" y1="452.00" x2="439.37" y2="451.47" stroke="#111" stroke-width="1.0" stroke-linecap="round"/>
<line x1="437.75" y1="452.00" x2="438.75" y2="453.38" stroke="#111" stroke-width="1.0" stroke-linecap="round"/>
<line x1="437.75" y1="452.00" x2="436.75" y2="453.38" stroke="#111" stroke-width="1.0" stroke-linecap="round"/>
<line x1="437.75" y1="452.00" x2="436.13" y2="451.47" stroke="#111" stroke-width="1.0" stroke-linecap="round"/>
<rect x="451.50" y="429.72" width="13.10" height="32.48" fill="#000"/>
<line x1="458.05" y1="429.72" x2="458.05" y2="420.40" stroke="#000" stroke-width="1.05" />
<line x1="456.30" y1="420.40" x2="459.80" y2="420.40" stroke="#000" stroke-width="1.05" />
<line x1="456.37" y1="414.80" x2="457.61" y2="408.80" stroke="#000" stroke-width="1.05" />
<line x1="458.49" y1="414.80" x2="459.73" y2="408.80" stroke="#000" stroke-width="1.05" />
<line x1="456.02" y1="410.87" x2="460.52" y2="410.87" stroke="#000" stroke-width="1.2075" />
<line x1="455.58" y1="412.90" x2="460.08" y2="412.90" stroke="#000" stroke-width="1.2075" />
<rect x="471.80" y="459.30" width="13.40" height="2.90" fill="#000"/>
<line x1="478.50" y1="459.30" x2="478.50" y2="457.50" stroke="#000" stroke-width="1.05" />
<line x1="476.75" y1="457.50" x2="480.25" y2="457.50" stroke="#000" stroke-width="1.05" />
<line x1="478.50" y1="453.10" x2="478.50" y2="451.40" stroke="#111" stroke-width="1.0" stroke-linecap="round"/>
<line x1="478.50" y1="453.10" x2="480.12" y2="452.57" stroke="#111" stroke-width="1.0" stroke-linecap="round"/>
<line x1="478.50" y1="453.10" x2="479.50" y2="454.48" stroke="#111" stroke-width="1.0" stroke-linecap="round"/>
<line x1="478.50" y1="453.10" x2="477.50" y2="454.48" stroke="#111" stroke-width="1.0" stroke-linecap="round"/>
<line x1="478.50" y1="453.10" x2="476.88" y2="452.57" stroke="#111" stroke-width="1.0" stroke-linecap="round"/>
<rect x="492.90" y="460.46" width="13.10" height="1.74" fill="#000"/>
<line x1="499.45" y1="460.46" x2="499.45" y2="459.60" stroke="#000" stroke-width="1.05" />
<line x1="497.70" y1="459.60" x2="501.20" y2="459.60" stroke="#000" stroke-width="1.05" />
<line x1="499.45" y1="454.80" x2="499.45" y2="453.10" stroke="#111" stroke-width="1.0" stroke-linecap="round"/>
<line x1="499.45" y1="454.80" x2="501.07" y2="454.27" stroke="#111" stroke-width="1.0" stroke-linecap="round"/>
<line x1="499.45" y1="454.80" x2="500.45" y2="456.18" stroke="#111" stroke-width="1.0" stroke-linecap="round"/>
<line x1="499.45" y1="454.80" x2="498.45" y2="456.18" stroke="#111" stroke-width="1.0" stroke-linecap="round"/>
<line x1="499.45" y1="454.80" x2="497.83" y2="454.27" stroke="#111" stroke-width="1.0" stroke-linecap="round"/>
<line x1="355.30" y1="345.70" x2="355.30" y2="462.70" stroke="#111" stroke-width="1.05" />
<line x1="354.80" y1="462.20" x2="520.00" y2="462.20" stroke="#111" stroke-width="1.1" />
<line x1="353.10" y1="462.20" x2="355.30" y2="462.20" stroke="#111" stroke-width="0.95" />
<text x="347.90" y="464.80" font-size="7.1" font-weight="normal" text-anchor="end" fill="#4a4a4a" >0.0</text>
<line x1="353.10" y1="433.20" x2="355.30" y2="433.20" stroke="#111" stroke-width="0.95" />
<text x="347.90" y="435.80" font-size="7.1" font-weight="normal" text-anchor="end" fill="#4a4a4a" >0.5</text>
<line x1="353.10" y1="404.20" x2="355.30" y2="404.20" stroke="#111" stroke-width="0.95" />
<text x="347.90" y="406.80" font-size="7.1" font-weight="normal" text-anchor="end" fill="#4a4a4a" >1.0</text>
<line x1="353.10" y1="375.20" x2="355.30" y2="375.20" stroke="#111" stroke-width="0.95" />
<text x="347.90" y="377.80" font-size="7.1" font-weight="normal" text-anchor="end" fill="#4a4a4a" >1.5</text>
<line x1="353.10" y1="346.20" x2="355.30" y2="346.20" stroke="#111" stroke-width="0.95" />
<text x="347.90" y="348.80" font-size="7.1" font-weight="normal" text-anchor="end" fill="#4a4a4a" >2.0</text>
<rect x="164.60" y="353.60" width="14.60" height="3.20" fill="#fff" stroke="#000" stroke-width="1.0"/>
<rect x="164.1" y="361.2" width="15.6" height="4.0" fill="#000"/>
<text x="182.90" y="357.60" font-size="6.3" font-weight="normal" text-anchor="start" fill="#444" >unstimulated</text>
<text x="182.90" y="364.70" font-size="6.3" font-weight="normal" text-anchor="start" fill="#444" >CCL3</text>
<text x="0.80" y="479.60" font-size="8.05" font-weight="bold" text-anchor="start" fill="#000" stroke="#000" stroke-width="0.25">drug vehicle</text>
<text x="0.80" y="489.50" font-size="8.05" font-weight="bold" text-anchor="start" fill="#000" stroke="#000" stroke-width="0.25">PTx (systemically)</text>
<text x="0.80" y="499.30" font-size="8.05" font-weight="bold" text-anchor="start" fill="#000" stroke="#000" stroke-width="0.25">PTx (pre-treatment of donor cells)</text>
<text x="0.80" y="509.00" font-size="8.05" font-weight="bold" text-anchor="start" fill="#000" stroke="#000" stroke-width="0.25">wortmannin (systemically)</text>
<text x="0.80" y="518.60" font-size="8.05" font-weight="bold" text-anchor="start" fill="#000" stroke="#000" stroke-width="0.25">wortmannin (pre-treatment of donor cells)</text>
<rect x="174.10" y="477.50" width="2.4" height="1" fill="#444" opacity="0.90"/>
<rect x="372.70" y="477.20" width="2.4" height="1" fill="#444" opacity="0.90"/>
<path d="M195.90 478.00H199.30M197.60 476.10V479.90" stroke="#333" stroke-width="1.1" fill="none" opacity="1.00"/>
<path d="M395.20 477.70H398.60M396.90 475.80V479.60" stroke="#333" stroke-width="1.1" fill="none" opacity="1.00"/>
<rect x="217.10" y="477.50" width="2.4" height="1" fill="#444" opacity="0.90"/>
<rect x="415.50" y="477.20" width="2.4" height="1" fill="#444" opacity="0.90"/>
<path d="M237.40 478.00H240.80M239.10 476.10V479.90" stroke="#333" stroke-width="1.1" fill="none" opacity="1.00"/>
<path d="M436.10 477.70H439.50M437.80 475.80V479.60" stroke="#333" stroke-width="1.1" fill="none" opacity="1.00"/>
<path d="M255.90 478.00H259.30M257.60 476.10V479.90" stroke="#333" stroke-width="1.1" fill="none" opacity="1.00"/>
<path d="M454.60 477.70H458.00M456.30 475.80V479.60" stroke="#333" stroke-width="1.1" fill="none" opacity="1.00"/>
<rect x="277.70" y="477.50" width="2.4" height="1" fill="#444" opacity="0.90"/>
<rect x="476.30" y="477.20" width="2.4" height="1" fill="#444" opacity="0.90"/>
<path d="M298.60 478.00H302.00M300.30 476.10V479.90" stroke="#333" stroke-width="1.1" fill="none" opacity="1.00"/>
<path d="M497.40 477.70H500.80M499.10 475.80V479.60" stroke="#333" stroke-width="1.1" fill="none" opacity="1.00"/>
<rect x="174.10" y="487.30" width="2.4" height="1" fill="#444" opacity="0.90"/>
<rect x="372.70" y="487.00" width="2.4" height="1" fill="#444" opacity="0.90"/>
<rect x="196.40" y="487.30" width="2.4" height="1" fill="#444" opacity="0.90"/>
<rect x="395.70" y="487.00" width="2.4" height="1" fill="#444" opacity="0.90"/>
<path d="M216.60 487.80H220.00M218.30 485.90V489.70" stroke="#333" stroke-width="1.1" fill="none" opacity="1.00"/>
<path d="M415.00 487.50H418.40M416.70 485.60V489.40" stroke="#333" stroke-width="1.1" fill="none" opacity="1.00"/>
<rect x="237.90" y="487.30" width="2.4" height="1" fill="#444" opacity="0.90"/>
<rect x="436.60" y="487.00" width="2.4" height="1" fill="#444" opacity="0.90"/>
<rect x="256.40" y="487.30" width="2.4" height="1" fill="#444" opacity="0.90"/>
<rect x="455.10" y="487.00" width="2.4" height="1" fill="#444" opacity="0.90"/>
<rect x="277.70" y="487.30" width="2.4" height="1" fill="#444" opacity="0.90"/>
<rect x="476.30" y="487.00" width="2.4" height="1" fill="#444" opacity="0.90"/>
<rect x="299.10" y="487.30" width="2.4" height="1" fill="#444" opacity="0.90"/>
<rect x="497.90" y="487.00" width="2.4" height="1" fill="#444" opacity="0.90"/>
<rect x="174.10" y="497.10" width="2.4" height="1" fill="#444" opacity="0.90"/>
<rect x="372.70" y="496.80" width="2.4" height="1" fill="#444" opacity="0.90"/>
<rect x="196.40" y="497.10" width="2.4" height="1" fill="#444" opacity="0.90"/>
<rect x="395.70" y="496.80" width="2.4" height="1" fill="#444" opacity="0.90"/>
<rect x="217.10" y="497.10" width="2.4" height="1" fill="#444" opacity="0.90"/>
<rect x="415.50" y="496.80" width="2.4" height="1" fill="#444" opacity="0.90"/>
<path d="M237.40 497.60H240.80M239.10 495.70V499.50" stroke="#333" stroke-width="1.1" fill="none" opacity="1.00"/>
<path d="M436.10 497.30H439.50M437.80 495.40V499.20" stroke="#333" stroke-width="1.1" fill="none" opacity="1.00"/>
<rect x="256.40" y="497.10" width="2.4" height="1" fill="#444" opacity="0.90"/>
<rect x="455.10" y="496.80" width="2.4" height="1" fill="#444" opacity="0.90"/>
<rect x="277.70" y="497.10" width="2.4" height="1" fill="#444" opacity="0.90"/>
<rect x="476.30" y="496.80" width="2.4" height="1" fill="#444" opacity="0.90"/>
<rect x="299.10" y="497.10" width="2.4" height="1" fill="#444" opacity="0.90"/>
<rect x="497.90" y="496.80" width="2.4" height="1" fill="#444" opacity="0.90"/>
<rect x="174.10" y="506.80" width="2.4" height="1" fill="#444" opacity="0.90"/>
<rect x="372.70" y="506.50" width="2.4" height="1" fill="#444" opacity="0.90"/>
<rect x="196.40" y="506.80" width="2.4" height="1" fill="#444" opacity="0.90"/>
<rect x="395.70" y="506.50" width="2.4" height="1" fill="#444" opacity="0.90"/>
<rect x="217.10" y="506.80" width="2.4" height="1" fill="#444" opacity="0.90"/>
<rect x="415.50" y="506.50" width="2.4" height="1" fill="#444" opacity="0.90"/>
<rect x="237.90" y="506.80" width="2.4" height="1" fill="#444" opacity="0.90"/>
<rect x="436.60" y="506.50" width="2.4" height="1" fill="#444" opacity="0.90"/>
<rect x="256.40" y="506.80" width="2.4" height="1" fill="#444" opacity="0.90"/>
<rect x="455.10" y="506.50" width="2.4" height="1" fill="#444" opacity="0.90"/>
<path d="M277.20 507.30H280.60M278.90 505.40V509.20" stroke="#333" stroke-width="1.1" fill="none" opacity="1.00"/>
<path d="M475.80 507.00H479.20M477.50 505.10V508.90" stroke="#333" stroke-width="1.1" fill="none" opacity="1.00"/>
<rect x="299.10" y="506.80" width="2.4" height="1" fill="#444" opacity="0.90"/>
<rect x="497.90" y="506.50" width="2.4" height="1" fill="#444" opacity="0.90"/>
<rect x="174.10" y="516.30" width="2.4" height="1" fill="#444" opacity="0.90"/>
<rect x="372.70" y="516.00" width="2.4" height="1" fill="#444" opacity="0.41"/>
<rect x="196.40" y="516.30" width="2.4" height="1" fill="#444" opacity="0.90"/>
<rect x="395.70" y="516.00" width="2.4" height="1" fill="#444" opacity="0.41"/>
<rect x="217.10" y="516.30" width="2.4" height="1" fill="#444" opacity="0.90"/>
<rect x="415.50" y="516.00" width="2.4" height="1" fill="#444" opacity="0.41"/>
<rect x="237.90" y="516.30" width="2.4" height="1" fill="#444" opacity="0.90"/>
<rect x="436.60" y="516.00" width="2.4" height="1" fill="#444" opacity="0.41"/>
<rect x="256.40" y="516.30" width="2.4" height="1" fill="#444" opacity="0.90"/>
<rect x="455.10" y="516.00" width="2.4" height="1" fill="#444" opacity="0.41"/>
<rect x="277.70" y="516.30" width="2.4" height="1" fill="#444" opacity="0.90"/>
<rect x="476.30" y="516.00" width="2.4" height="1" fill="#444" opacity="0.41"/>
<path d="M298.60 516.80H302.00M300.30 514.90V518.70" stroke="#333" stroke-width="1.1" fill="none" opacity="1.00"/>
<path d="M497.40 516.50H500.80M499.10 514.60V518.40" stroke="#333" stroke-width="1.1" fill="none" opacity="1.00"/>
</g></svg></body></html>
